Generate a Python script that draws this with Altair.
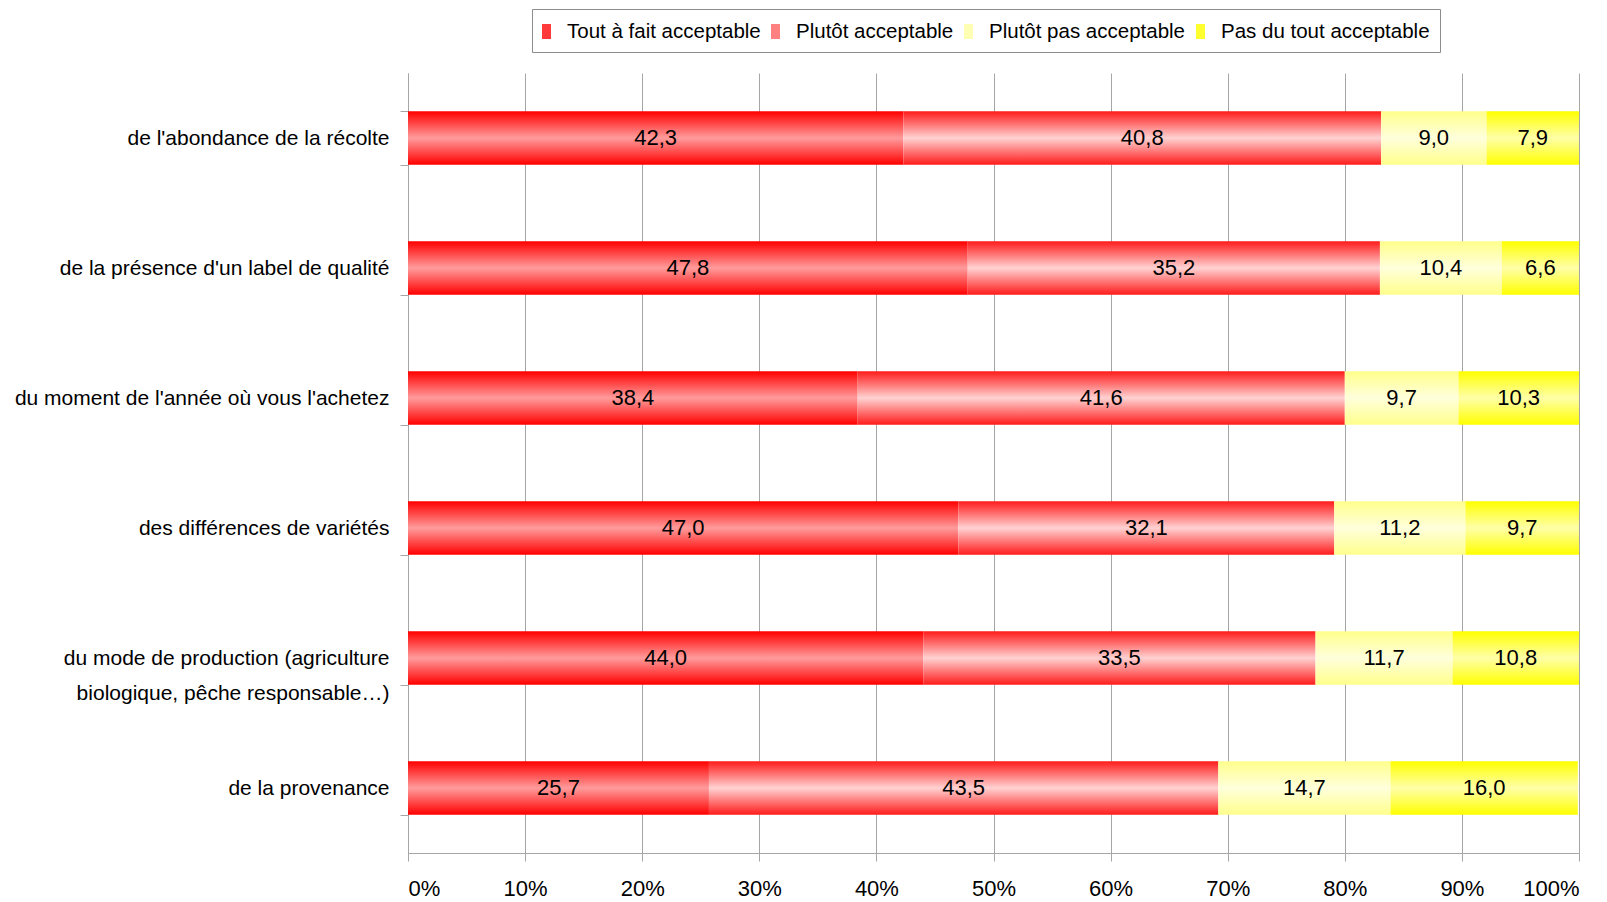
import altair as alt
import pandas as pd

categories = [
    "de l'abondance de la récolte",
    "de la présence d'un label de qualité",
    "du moment de l'année où vous l'achetez",
    "des différences de variétés",
    "du mode de production (agriculture|biologique, pêche responsable…)",
    "de la provenance",
]
series = ["Tout à fait acceptable", "Plutôt acceptable", "Plutôt pas acceptable", "Pas du tout acceptable"]
tout_a_fait = [42.3, 47.8, 38.4, 47.0, 44.0, 25.7]
plutot = [40.8, 35.2, 41.6, 32.1, 33.5, 43.5]
plutot_pas = [9.0, 10.4, 9.7, 11.2, 11.7, 14.7]
pas_du_tout = [7.9, 6.6, 10.3, 9.7, 10.8, 16.0]
x_ticks = [0, 10, 20, 30, 40, 50, 60, 70, 80, 90, 100]

edge_colors = ["#ff0000", "#ff1c1c", "#ffff8c", "#ffff00"]
mid_colors = ["#ff9c9c", "#ffd2d2", "#ffffdc", "#ffffa8"]
legend_colors = ["#ff3a3a", "#ff8080", "#ffffb4", "#ffff30"]

rows = []
for i, c in enumerate(categories):
    for j, vals in enumerate([tout_a_fait, plutot, plutot_pas, pas_du_tout]):
        rows.append({"cat": c, "series": series[j], "order": j, "value": vals[i]})
df = pd.DataFrame(rows)

FONT = "Liberation Sans, Arial, sans-serif"
FS_LABEL = 21
FS_LEGEND = 20.5
FS_DATA = 22

base = alt.Chart(df).transform_stack(
    stack="value", groupby=["cat"], as_=["x0", "x1"], sort=[alt.SortField("order")]
)

x_enc = alt.X(
    "x0:Q",
    scale=alt.Scale(domain=[0, 100], nice=False),
    axis=alt.Axis(
        values=x_ticks, title=None, labelExpr="datum.value + '%'",
        grid=True, gridColor="#a6a6a6", gridWidth=1,
        domainColor="#a6a6a6", tickColor="#a6a6a6", tickSize=8,
        labelFont=FONT, labelFontSize=FS_DATA, labelColor="#000", labelPadding=17,
    ),
)
y_enc = alt.Y(
    "cat:N", sort=categories,
    scale=alt.Scale(paddingInner=0.59, paddingOuter=0.295),
    axis=alt.Axis(
        title=None, tickBand="extent", labelExpr="split(datum.label, '|')",
        domainColor="#a6a6a6", tickColor="#a6a6a6", tickSize=8,
        labelFont=FONT, labelFontSize=FS_LABEL, labelColor="#000", labelPadding=11,
        labelLineHeight=35, labelLimit=0, grid=False,
    ),
)

layers = []
for j in range(4):
    grad = alt.Gradient(
        gradient="linear", x1=0, y1=0, x2=0, y2=1,
        stops=[
            alt.GradientStop(color=edge_colors[j], offset=0),
            alt.GradientStop(color=mid_colors[j], offset=0.5),
            alt.GradientStop(color=edge_colors[j], offset=1),
        ],
    )
    layers.append(
        base.transform_filter(alt.datum.order == j)
        .mark_bar(color=grad, strokeWidth=0)
        .encode(x=x_enc, x2="x1:Q", y=y_enc)
    )

text = base.transform_calculate(
    mid="(datum.x0 + datum.x1) / 2",
    lbl="replace(format(datum.value, '.1f'), '.', ',')",
).mark_text(font=FONT, fontSize=FS_DATA, color="#000", baseline="middle").encode(
    x="mid:Q", y=alt.Y("cat:N", sort=categories), text="lbl:N"
)

legend_layer = base.mark_square(opacity=0).encode(
    x="x0:Q",
    y=alt.Y("cat:N", sort=categories),
    color=alt.Color(
        "series:N",
        scale=alt.Scale(domain=series, range=legend_colors),
        legend=alt.Legend(
            orient="none", legendX=124, legendY=-64, direction="horizontal", title=None,
            labelFont=FONT, labelFontSize=FS_LEGEND, labelColor="#000",
            symbolType="M-1,-0.6H-0.28V0.6H-1Z", symbolSize=625, symbolOpacity=1,
            symbolStrokeWidth=0,
            strokeColor="#8c8c8c", fillColor="#ffffff", padding=10,
            columnPadding=10, labelOffset=0, labelLimit=0,
        ),
    ),
)

chart = alt.layer(*layers, text, legend_layer).properties(
    width=1171, height=780,
    padding={"left": 400, "top": 65, "right": 20, "bottom": 50},
    autosize=alt.AutoSizeParams(type="none"),
).configure_view(stroke=None)

chart.save("out.html", embed_options={"renderer": "svg", "actions": False})
